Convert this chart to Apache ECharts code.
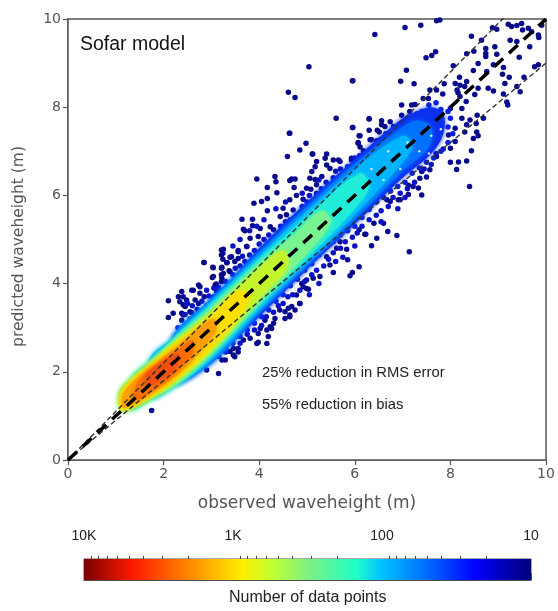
<!DOCTYPE html>
<html><head><meta charset="utf-8">
<style>html,body{margin:0;padding:0;background:#fff}#c{width:558px;height:611px}#c canvas{filter:blur(.55px)}</style>
<script src="https://cdn.jsdelivr.net/npm/echarts@6/dist/echarts.min.js"></script>
</head><body><div id="c"></div>
<script>
const xTicks=[0,2,4,6,8,10];
const fitLine=[[0,0],[10,10]];
const upperLine=[[0,0],[10,11]];
const lowerLine=[[0,0],[10,9]];
const outlierDots=[[6.42,9.65],[7.05,9.81],[7.38,9.86],[7.71,9.96],[7.78,9.98],[8.44,9.61],[8.88,9.8],[8.97,9.77],[9.21,9.88],[9.28,9.83],[9.39,9.85],[9.49,9.9],[9.51,9.75],[9.63,9.79],[9.7,9.71],[9.84,9.64],[9.85,9.58],[9.91,9.86],[7.49,9.12],[7.61,9.17],[7.69,9.26],[8.65,9.52],[9.25,9.52],[9.39,9.49],[9.66,9.37],[8.34,9.21],[8.49,9.27],[8.74,9.33],[8.74,9.22],[8.74,9.15],[8.93,9.37],[8.97,9.2],[9.44,9.13],[8.06,8.94],[8.58,8.99],[8.48,8.83],[8.76,8.81],[8.9,8.96],[9.11,8.9],[9.09,8.75],[9.23,8.68],[9.76,8.92],[9.84,8.96],[7.08,8.84],[6.96,8.59],[7.24,8.53],[5.95,8.6],[9.54,8.68],[8.19,8.68],[8.1,8.54],[8.34,8.58],[8.2,8.5],[8.3,8.47],[8.14,8.39],[7.87,8.53],[7.71,8.39],[7.57,8.39],[7.43,8.2],[7.54,8.2],[7.84,8.3],[8.58,8.43],[8.79,8.43],[8.9,8.37],[9.11,8.3],[9.14,8.54],[9.39,8.47],[9.46,8.35],[8.51,8.29],[8.2,8.24],[8.16,8.33],[9.18,8.12],[9.2,8.05],[8.33,8.13],[8.24,7.97],[8.0,7.97],[6.98,8.05],[7.19,8.05],[7.26,8.06],[6.98,7.82],[7.15,7.9],[6.3,7.73],[6.56,7.69],[6.74,7.67],[6.56,7.6],[6.63,7.56],[6.81,7.56],[5.95,7.54],[6.3,7.48],[6.51,7.44],[6.09,7.35],[6.07,7.2],[6.11,7.1],[6.18,7.01],[6.35,7.26],[6.53,7.26],[6.42,7.14],[6.37,7.07],[5.93,6.84],[5.69,6.77],[8.24,7.75],[8.41,7.71],[8.56,7.82],[8.69,7.75],[8.54,7.63],[8.34,7.6],[8.1,7.52],[8.3,7.44],[8.55,7.44],[8.58,7.35],[8.48,7.29],[8.1,7.22],[7.96,7.37],[8.0,7.07],[8.44,7.01],[7.71,6.88],[8.0,6.75],[8.17,6.76],[8.34,6.78],[8.13,6.59],[8.4,6.2],[7.57,6.58],[7.5,6.42],[7.4,6.54],[7.36,6.39],[7.22,6.2],[7.12,6.23],[7.33,6.17],[7.4,6.01],[7.12,6.02],[6.91,5.9],[6.74,5.86],
[4.64,7.41],[4.98,7.18],[4.59,6.88],[4.85,7.03],[5.12,6.94],[5.41,6.94],[5.38,6.84],[5.55,6.8],[5.66,6.8],[5.2,6.77],[5.17,6.65],[5.1,6.54],[5.41,6.69],[5.48,6.61],[5.93,6.8],[6.11,7.35],[6.07,7.18],[6.32,7.26],[6.46,7.24],[6.18,6.95],[3.95,6.37],[4.33,6.43],[4.35,6.31],[4.68,6.37],[4.75,6.37],[4.64,6.34],[5.06,6.39],[5.17,6.36],[5.31,6.43],[4.17,6.18],[4.73,6.18],[4.99,6.16],[5.08,6.14],[4.37,6.06],[4.78,6.0],[3.89,5.82],[4.05,5.86],[4.17,5.93],[4.17,5.65],[4.64,5.9],[4.92,5.91],[5.2,6.24],[3.64,5.46],[3.86,5.46],[3.86,5.31],[3.67,5.23],[4.02,5.25],[4.23,5.29],[4.3,5.22],[4.44,5.52],[4.57,5.56],[4.71,5.67],[4.5,5.71],[3.81,5.03],[3.98,5.07],[3.25,4.78],[3.24,4.69],[3.56,4.72],[3.74,4.84],[2.85,4.48],[3.24,4.55],[3.42,4.61],[3.32,4.47],[3.49,4.5],[3.03,4.37],[3.22,4.37],[3.02,4.14],[3.25,4.23],[3.39,4.27],[3.08,3.97],[3.22,4.12],[2.73,3.97],[2.62,3.85],[2.76,3.78],[2.85,3.7],[2.38,3.82],[2.48,3.63],[2.66,3.63],[2.73,3.55],[2.41,3.52],[2.38,3.33],[2.55,3.36],
[6.46,5.03],[6.35,4.86],[6.21,5.12],[6.4,5.37],[6.09,4.38],[5.95,4.25],[5.9,4.18],[5.85,4.54],[5.83,4.78],[5.62,4.8],[5.69,4.95],[5.48,4.42],[5.55,4.25],[5.41,4.61],[5.27,4.16],[5.13,4.12],[4.99,4.08],[5.03,3.87],[4.92,3.93],[4.85,3.55],[4.68,3.48],[4.54,3.21],[4.43,3.4],[4.64,3.29],[4.3,3.1],[4.12,3.17],[4.23,3.02],[4.02,2.98],
[2.1,3.61],[2.31,3.7],[2.41,3.7],[2.34,3.59],[2.45,3.48],[2.2,3.33],[2.1,3.23],[2.41,3.29],[2.59,3.85],[2.76,3.93],[2.59,3.34],[2.38,3.17],[2.84,4.48],[3.04,4.36],[3.21,4.76],[3.21,4.65],[3.39,4.6],[3.33,4.48],[3.21,4.35],[3.37,4.29],[3.04,4.16],[3.21,4.2],[3.1,3.99],[3.21,4.04],[3.11,3.82],[3.56,4.75],[3.56,4.57],[3.74,4.84],[3.7,5.2],
[4.16,2.95],[3.98,2.87],[3.81,2.76],[4.19,2.8],[4.16,2.64],[3.95,2.64],[3.67,2.72],[3.56,2.53],[3.39,2.46],[3.49,2.34],[3.15,1.96],[2.9,2.04],[3.22,2.27],[3.46,2.38],[3.56,2.45],[3.46,2.53],[3.98,2.67],[4.26,2.98],[4.33,3.21],[4.64,3.25],[4.75,3.4],[4.85,3.55],[4.61,3.44],[4.99,3.89],[4.89,4.0],[4.78,3.74],[4.54,3.36],[3.29,2.27],
[7.14,4.72],[6.88,5.09],[6.69,5.18],[6.6,5.37],[6.23,5.12],[6.09,5.22],[6.95,5.9],[6.67,5.9],[5.04,8.92],[5.96,8.6],[4.61,8.34],[4.75,8.22],[5.61,7.75],[6.3,7.74],[4.63,7.41],[5.96,7.54],[6.47,7.48],[5.11,6.94],[6.39,7.1],[1.75,1.12]];
const nearBandDots=[[2.45,3.3],[2.6,3.5],[2.5,3.55],[2.7,3.42],[2.8,3.6],[2.95,3.72],[2.9,3.85],[3.05,3.9],[3.15,3.92],[3.3,4.05],[3.45,4.2],[3.5,4.35],[3.6,4.4],[3.7,4.5],[3.65,4.62],[3.8,4.65],[3.9,4.75],[4.0,4.9],[4.1,5.0],[4.2,5.1],[4.35,5.05],[4.45,5.3],[4.55,5.4],[4.65,5.45],[4.8,5.55],[4.9,5.75],[5.0,5.85],[5.05,6.0],[5.2,6.05],[5.3,6.15],[5.4,6.3],[5.55,6.4],[5.6,6.55],[5.7,6.6],[5.85,6.65],[6.0,6.85],[6.1,6.9],[6.25,6.85],[6.4,6.95],[6.5,7.05],[6.65,7.15],[6.75,7.3],[6.9,7.35],[7.0,7.45],[7.1,7.6],[7.2,7.7],[7.3,7.85],[6.85,7.5],[6.65,7.4],[5.25,6.35],[4.9,6.05],[4.55,5.85],[4.35,5.7],[4.1,5.45],[3.95,5.3],[3.8,5.2],[3.6,5.0],[3.45,4.85],
[3.3,2.45],[3.6,2.65],[3.75,2.85],[3.9,2.95],[4.05,3.05],[4.15,3.25],[4.3,3.35],[4.4,3.5],[4.5,3.55],[4.6,3.7],[4.7,3.75],[4.85,3.85],[4.95,4.05],[5.1,4.2],[5.2,4.3],[5.35,4.4],[5.45,4.55],[5.55,4.7],[5.7,4.8],[5.8,4.95],[5.95,5.05],[6.05,5.15],[6.15,5.3],[6.3,5.45],[6.45,5.55],[6.55,5.65],[6.7,5.75],[6.8,5.95],[6.95,6.05],[7.1,6.15],[7.25,6.3],[7.45,6.6],[7.6,6.7],[7.7,6.95],[7.85,7.05],[5.25,4.0],[5.6,4.5],[5.75,4.6],[6.0,4.85],[5.05,3.75],[6.55,5.4],[6.9,5.7],[7.05,5.95]];
const edgeDots=[[2.3,3.0],[2.55,3.2],[2.75,3.35],[2.9,3.5],[3.05,3.7],[3.2,3.8],[3.35,3.92],[3.5,4.1],[3.65,4.25],[3.75,4.35],[3.9,4.5],[4.05,4.7],[4.2,4.85],[4.3,4.92],[4.45,5.05],[4.55,5.2],[4.7,5.3],[4.85,5.45],[4.95,5.6],[5.1,5.75],[5.25,5.9],[5.4,6.05],[5.5,6.15],[5.65,6.25],[5.8,6.45],[5.95,6.55],[6.05,6.7],[6.2,6.8],[6.35,6.85],[6.5,7.0],[6.65,7.1],[6.8,7.2],[6.95,7.4],[7.1,7.5],[7.25,7.65],[7.4,7.9],[7.55,8.05],[7.7,8.1],[7.8,7.95],[7.95,7.9],[8.0,7.75],[7.95,7.55],[8.05,7.4],[7.95,7.2],[7.8,7.0],[7.65,6.85],[7.5,6.75],[7.35,6.62],[7.2,6.5],[7.05,6.3],[6.9,6.2],[6.75,6.1],[6.6,5.95],[6.45,5.85],[6.3,5.68],[6.15,5.5],[6.0,5.3],[5.85,5.2],[5.7,5.1],[5.55,4.95],[5.4,4.85],[5.25,4.65],[5.1,4.45],[4.95,4.3],[4.8,4.1],[4.65,3.95],[4.5,3.75],[4.35,3.6],[4.2,3.4],[4.05,3.25],[3.9,3.1],[3.75,2.95],[3.6,2.8],[3.45,2.65],[3.3,2.5],[3.15,2.35],[7.3,7.3],[7.5,7.6],[7.75,7.6],[7.2,7.05],[6.9,6.8],[7.6,7.15],[7.45,7.8],[7.6,7.85],[7.75,7.75]];
const paleSpecks=[[6.6,6.35],[6.95,6.6],[7.35,7.0],[7.6,7.35],[7.55,6.95],[7.1,7.2],[6.7,7.0],[6.35,6.6],[7.8,7.5]];
const countTicksMajor=[10000,1000,100,10];
const countTicksMinor=[9000,8000,7000,6000,5000,4000,3000,2000,900,800,700,600,500,400,300,200,90,80,70,60,50,40,30,20];
const blueBand=[[2.2,1.75],[2.9,2.12],[3.5,2.72],[4,3.25],[5,4.32],[6,5.35],[7,6.4],[7.6,6.95],[7.85,7.4],[7.85,7.85],[7.6,8.0],[7.3,7.9],[7,7.75],[6,6.82],[5,5.85],[4,4.8],[3.4,4.08],[3,3.68],[2.6,3.15],[2.2,2.8]];
const midBlueBand=[[2.2,1.75],[3,2.2],[4,3.32],[5,4.4],[6,5.45],[7,6.55],[7.55,7.1],[7.6,7.55],[7.3,7.7],[7,7.55],[6,6.72],[5,5.75],[4,4.72],[3,3.65],[2.2,2.8]];
const skyBand=[[1.7,1.4],[2.3,1.72],[3,2.28],[4,3.4],[5,4.47],[6,5.55],[7,6.75],[7.2,7.15],[7,7.35],[6,6.6],[5,5.65],[4,4.63],[3,3.6],[2.2,2.78],[1.7,2.28]];
const cyanBand=[[1.3,1.14],[1.8,1.4],[2.3,1.7],[3,2.36],[4,3.5],[5,4.57],[6,5.7],[6.3,6.2],[6.1,6.5],[5,5.52],[4,4.55],[3,3.53],[2.2,2.75],[1.8,2.33],[1.3,1.83]];
const greenBand=[[1.15,1.1],[1.8,1.42],[2.3,1.75],[3,2.42],[4,3.56],[5,4.68],[5.5,5.4],[5.3,5.65],[4.7,5.08],[4,4.46],[3,3.45],[2.2,2.7],[1.8,2.3],[1.25,1.8],[1.05,1.5]];
const limeBand=[[1.13,1.12],[1.8,1.45],[2.3,1.82],[3,2.47],[4,3.66],[4.6,4.4],[4.5,4.75],[4,4.35],[3,3.36],[2.2,2.65],[1.8,2.27],[1.25,1.76],[1.07,1.47]];
const yellowBand=[[1.15,1.15],[1.8,1.48],[2.3,1.87],[3,2.55],[3.6,3.3],[3.8,3.75],[3.5,3.8],[3,3.25],[2.2,2.6],[1.8,2.22],[1.25,1.72],[1.1,1.45]];
const orangeBand=[[1.18,1.18],[1.8,1.56],[2.3,1.95],[2.8,2.5],[3.1,2.95],[3.05,3.2],[2.8,3.05],[2.4,2.68],[1.8,2.16],[1.25,1.66],[1.13,1.4]];
const deepOrangeBand=[[1.4,1.36],[1.9,1.66],[2.3,2.03],[2.6,2.42],[2.6,2.72],[2.3,2.5],[1.9,2.18],[1.45,1.76]];
const redBand=[[1.65,1.68],[2.0,1.86],[2.3,2.16],[2.3,2.42],[2.0,2.24],[1.65,1.96]];
const bands=[blueBand,midBlueBand,skyBand,cyanBand,greenBand,limeBand,yellowBand,orangeBand,deepOrangeBand,redBand];
const bandColors=['#0a30f0','#0070ff','#00b4ff','#20ecd8','#78f590','#c4f52c','#ffdf00','#ffa000','#ff7000','#f25010'];
const barStops=[[0,'#7a0000'],[.11,'#ff1a00'],[.24,'#ff8c00'],[.355,'#fff000'],[.42,'#c0ff30'],[.5,'#80f080'],[.61,'#20ffc8'],[.66,'#00c8ff'],[.78,'#0060ff'],[.875,'#0000ff'],[1,'#00007a']];
const axisGray='#555';
const font='"Liberation Sans",Arial,sans-serif';
const chart=echarts.init(document.getElementById('c'),null,{renderer:'canvas',width:558,height:611});
const fmt=v=>v>=10000?'10K':v>=1000?'1K':String(v);
const dashLine=(data,color,width,dash,z)=>({type:'line',data,xAxisIndex:0,yAxisIndex:0,showSymbol:false,symbol:'none',silent:true,z,lineStyle:{color,width,type:dash}});
chart.setOption({animation:false,backgroundColor:'#fff',
 grid:[{left:68,right:12,top:19,bottom:151,show:true,borderColor:axisGray,borderWidth:1.5,backgroundColor:'#fff',z:1},
       {left:84,right:27,top:559,height:21,show:true,borderColor:'#555',borderWidth:1,z:1}],
 xAxis:[{type:'value',gridIndex:0,min:0,max:10,interval:2,name:'observed waveheight (m)',nameLocation:'middle',nameGap:35,
   nameTextStyle:{color:axisGray,fontSize:17,fontFamily:'DejaVu Sans'},
   axisLine:{lineStyle:{color:axisGray,width:1.5}},axisTick:{length:5,lineStyle:{color:axisGray,width:1.2}},
   axisLabel:{color:axisGray,fontSize:14,fontFamily:'DejaVu Sans',margin:7},splitLine:{show:false}},
  {type:'log',gridIndex:1,min:10,max:10000,inverse:true,position:'top',
   axisLine:{lineStyle:{color:'#444',width:1}},axisTick:{inside:false,length:7,lineStyle:{color:'#444',width:1},customValues:countTicksMajor},
   axisLabel:{show:true,color:'#222',fontSize:14,fontFamily:font,margin:16,customValues:countTicksMajor,formatter:fmt,hideOverlap:false},splitLine:{show:false},minorTick:{show:false}},
  {type:'log',gridIndex:1,min:10,max:10000,inverse:true,position:'top',
   axisLine:{show:false},axisTick:{length:3,lineStyle:{color:'#444',width:1},customValues:countTicksMinor},
   axisLabel:{show:false},splitLine:{show:false},minorTick:{show:false}}],
 yAxis:[{type:'value',gridIndex:0,min:0,max:10,interval:2,name:'predicted waveheight (m)',nameLocation:'middle',nameGap:41,
   nameTextStyle:{color:axisGray,fontSize:15.5,fontFamily:'DejaVu Sans',padding:[0,14,0,0]},
   axisLine:{lineStyle:{color:axisGray,width:1.5}},axisTick:{length:5,lineStyle:{color:axisGray,width:1.2}},
   axisLabel:{color:axisGray,fontSize:14,fontFamily:'DejaVu Sans',margin:7},splitLine:{show:false}},
  {type:'value',gridIndex:1,min:0,max:1,show:false}],
 series:[
  {type:'scatter',data:outlierDots,xAxisIndex:0,yAxisIndex:0,symbolSize:5.5,silent:true,z:2,itemStyle:{color:'#0a0a8c',opacity:1}},
  {type:'scatter',data:nearBandDots,xAxisIndex:0,yAxisIndex:0,symbolSize:5.5,silent:true,z:2.2,itemStyle:{color:'#0a12c4',opacity:1}},
  {type:'scatter',data:edgeDots,xAxisIndex:0,yAxisIndex:0,symbolSize:5.5,silent:true,z:2.5,itemStyle:{color:'#0a20e0',opacity:1}},
  {type:'custom',data:bands.map((b,i)=>i),xAxisIndex:0,yAxisIndex:0,silent:true,z:3,clip:true,
   renderItem:(p,api)=>{const i=p.dataIndex;return {type:'polygon',shape:{points:bands[i].map(q=>api.coord(q)),smooth:.35},
     style:{fill:bandColors[i],shadowBlur:5,shadowColor:bandColors[i]}}}},
  {type:'scatter',data:paleSpecks,xAxisIndex:0,yAxisIndex:0,symbolSize:2.5,silent:true,z:4,itemStyle:{color:'#cfe8ff',opacity:1}},
  dashLine(upperLine,'#333',1.4,[5,3],5),
  dashLine(lowerLine,'#333',1.4,[5,3],5),
  dashLine(fitLine,'#000',3.5,[12,8],6),
  {type:'custom',data:[[10000,10]],xAxisIndex:1,yAxisIndex:1,silent:true,z:3,
   renderItem:(p,api)=>{const a=api.coord([10000,1]),b=api.coord([10,0]);
    return {type:'rect',shape:{x:a[0],y:a[1],width:b[0]-a[0],height:b[1]-a[1]},
     style:{fill:new echarts.graphic.LinearGradient(0,0,1,0,barStops.map(s=>({offset:s[0],color:s[1]})))}}}}
 ],
 graphic:[
  {type:'text',z:100,left:80,top:35,style:{text:'Sofar model',font:'19.5px '+font,fill:'#111'}},
  {type:'text',z:100,left:262,top:365,style:{text:'25% reduction in RMS error',font:'14.8px '+font,fill:'#222'}},
  {type:'text',z:100,left:262,top:397,style:{text:'55% reduction in bias',font:'14.8px '+font,fill:'#222'}},
  {type:'text',z:100,left:229,top:590,style:{text:'Number of data points',font:'16px '+font,fill:'#222'}}
 ]
});
</script></body></html>
